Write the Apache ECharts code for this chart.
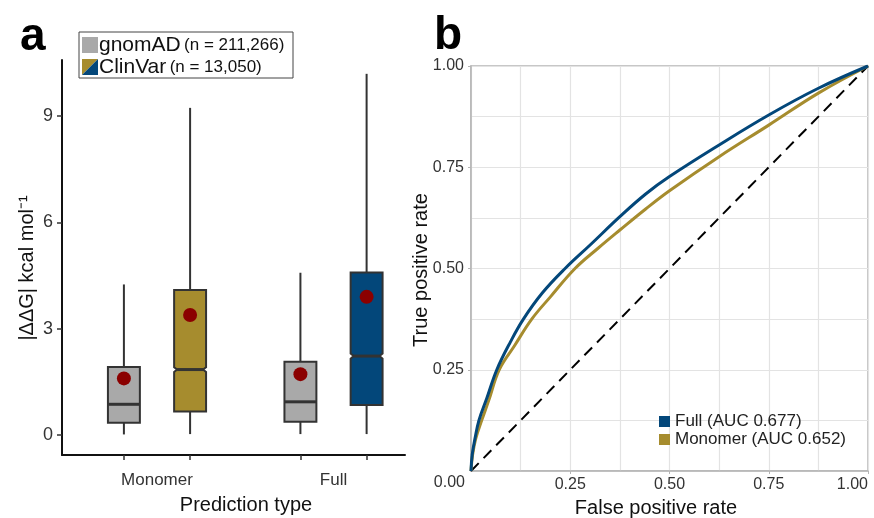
<!DOCTYPE html>
<html>
<head>
<meta charset="utf-8">
<script src="https://cdn.jsdelivr.net/npm/echarts@6/dist/echarts.min.js"></script>
<style>
  html, body { margin: 0; padding: 0; background: #fff; }
  #chart { width: 874px; height: 518px; }
</style>
</head>
<body>
<div id="chart"></div>
<script>
// panel a : |ddG| per prediction type, gnomAD vs ClinVar
var groups = ['Monomer', 'Full'];
// [lower whisker, q1, median, q3, upper whisker]
var gnomadStats = [[0.02, 0.35, 0.87, 1.92, 4.25], [0.03, 0.38, 0.94, 2.07, 4.58]];
var clinvarStats = [[0.03, 0.67, 1.85, 4.09, 9.23], [0.03, 0.85, 2.23, 4.59, 10.19]];
var gnomadNotch = [0.008, 0.008];
var clinvarNotch = [0.067, 0.073];
var gnomadMean = [1.6, 1.72];
var clinvarMean = [3.39, 3.9];
var yTicksA = [0, 3, 6, 9];

// panel b : ROC curves
var fullFpr = [0, 0.003, 0.01, 0.02, 0.04, 0.065, 0.1, 0.132, 0.18, 0.237, 0.3, 0.375, 0.44, 0.5, 0.625, 0.75, 0.875, 1];
var fullTpr = [0, 0.04, 0.08, 0.125, 0.18, 0.25, 0.32, 0.375, 0.44, 0.5, 0.558, 0.628, 0.684, 0.727, 0.805, 0.879, 0.945, 1];
var monoFpr = [0, 0.004, 0.012, 0.027, 0.045, 0.071, 0.11, 0.153, 0.2, 0.262, 0.32, 0.375, 0.44, 0.5, 0.625, 0.75, 0.875, 1];
var monoTpr = [0, 0.04, 0.08, 0.125, 0.175, 0.25, 0.31, 0.375, 0.43, 0.5, 0.55, 0.595, 0.647, 0.692, 0.776, 0.854, 0.933, 1];
var fullName = 'Full (AUC 0.677)';
var monoName = 'Monomer (AUC 0.652)';

var GREY = '#a9a9a9', GOLD = '#a68c2e', BLUE = '#03477a', EDGE = '#333333';
var DODGE = 0.1875, BOX_W = 0.181;
var FONT = 'Liberation Sans, Arial, sans-serif';

var boxData = [], meanData = [], dodgeTicks = [];
groups.forEach(function (g, i) {
  var xg = i + 1 - DODGE, xc = i + 1 + DODGE;
  boxData.push({ value: [xg].concat(gnomadStats[i], [gnomadNotch[i]]), itemStyle: { color: GREY } });
  boxData.push({ value: [xc].concat(clinvarStats[i], [clinvarNotch[i]]), itemStyle: { color: i === 0 ? GOLD : BLUE } });
  meanData.push([xg, gnomadMean[i]], [xc, clinvarMean[i]]);
  dodgeTicks.push(xg, xc);
});

function zip(a, b) { return a.map(function (v, i) { return [v, b[i]]; }); }

function renderBox(params, api) {
  var x = api.value(0);
  var lo = api.coord([x, api.value(1)]);
  var q1 = api.coord([x, api.value(2)]);
  var md = api.coord([x, api.value(3)]);
  var q3 = api.coord([x, api.value(4)]);
  var hi = api.coord([x, api.value(5)]);
  var nh = api.size([0, api.value(6)])[1];
  var w = api.size([BOX_W, 0])[0];
  var cx = md[0], l = cx - w / 2, r = cx + w / 2;
  var inset = Math.min(3, nh * 1.5);
  var line = { stroke: EDGE, lineWidth: 2 };
  return {
    type: 'group',
    children: [
      { type: 'line', shape: { x1: cx, y1: hi[1], x2: cx, y2: q3[1] }, style: line },
      { type: 'line', shape: { x1: cx, y1: q1[1], x2: cx, y2: lo[1] }, style: line },
      { type: 'polygon', shape: { points: [
          [l, q3[1]], [r, q3[1]], [r, md[1] - nh], [r - inset, md[1]], [r, md[1] + nh],
          [r, q1[1]], [l, q1[1]], [l, md[1] + nh], [l + inset, md[1]], [l, md[1] - nh]] },
        style: { fill: api.visual('color'), stroke: EDGE, lineWidth: 2 } },
      { type: 'line', shape: { x1: l + inset, y1: md[1], x2: r - inset, y2: md[1] }, style: { stroke: EDGE, lineWidth: 3 } }
    ]
  };
}

var chart = echarts.init(document.getElementById('chart'));
chart.setOption({
  backgroundColor: '#fff',
  animation: false,
  textStyle: { fontFamily: FONT },
  grid: [
    { left: 62, right: 469, top: 60, bottom: 63 },
    { left: 471, right: 6, top: 66, bottom: 47, show: true, borderColor: '#b5b5b5', borderWidth: 1.5 }
  ],
  xAxis: [
    { gridIndex: 0, type: 'value', min: 0.4618, max: 2.405,
      splitLine: { show: false },
      axisLine: { show: true, onZero: false, lineStyle: { color: '#111', width: 2 } },
      axisTick: { show: true, customValues: dodgeTicks, length: 5, lineStyle: { color: EDGE, width: 1.5 } },
      axisLabel: { customValues: [1, 2], formatter: function (v) { return groups[Math.round(v) - 1]; },
        fontSize: 17, color: '#333', margin: 17 } },
    { gridIndex: 1, type: 'value', min: 0, max: 1, interval: 0.25,
      axisLine: { show: true, onZero: false, lineStyle: { color: '#b5b5b5', width: 1.5 } },
      axisTick: { show: true, length: 3, lineStyle: { color: '#b5b5b5' } },
      axisLabel: { formatter: function (v) { return v.toFixed(2); }, fontSize: 16, color: '#333', margin: 6,
        showMinLabel: false, alignMaxLabel: 'right' },
      splitLine: { show: true, lineStyle: { color: '#e3e3e3', width: 1.2 } },
      minorTick: { show: false, splitNumber: 2 },
      minorSplitLine: { show: true, lineStyle: { color: '#e3e3e3', width: 1.2 } } }
  ],
  yAxis: [
    { gridIndex: 0, type: 'value', min: -0.56, max: 10.58,
      splitLine: { show: false },
      axisLine: { show: true, onZero: false, lineStyle: { color: '#111', width: 2 } },
      axisTick: { show: true, customValues: yTicksA, length: 5, lineStyle: { color: EDGE, width: 1.5 } },
      axisLabel: { customValues: yTicksA, fontSize: 18, color: '#333', margin: 9 } },
    { gridIndex: 1, type: 'value', min: 0, max: 1, interval: 0.25,
      axisLine: { show: true, onZero: false, lineStyle: { color: '#b5b5b5', width: 1.5 } },
      axisTick: { show: true, length: 3, lineStyle: { color: '#b5b5b5' } },
      axisLabel: { formatter: function (v) { return v.toFixed(2); }, fontSize: 16, color: '#333', margin: 7,
        showMinLabel: false },
      splitLine: { show: true, lineStyle: { color: '#e3e3e3', width: 1.2 } },
      minorTick: { show: false, splitNumber: 2 },
      minorSplitLine: { show: true, lineStyle: { color: '#e3e3e3', width: 1.2 } } }
  ],
  legend: {
    left: 659, top: 413, orient: 'vertical', padding: 0, itemGap: 1,
    itemWidth: 11, itemHeight: 11, icon: 'rect', selectedMode: false,
    textStyle: { fontSize: 17, color: '#222', fontFamily: FONT },
    data: [fullName, monoName]
  },
  series: [
    { type: 'custom', xAxisIndex: 0, yAxisIndex: 0, renderItem: renderBox, data: boxData, z: 2 },
    { type: 'scatter', xAxisIndex: 0, yAxisIndex: 0, data: meanData, symbolSize: 14,
      itemStyle: { color: '#8b0000', opacity: 1 }, z: 3 },
    { type: 'line', name: 'diagonal', xAxisIndex: 1, yAxisIndex: 1, data: [[0, 0], [1, 1]], showSymbol: false,
      lineStyle: { color: '#000', width: 2, type: [11, 7] }, itemStyle: { color: '#000' }, z: 2 },
    { type: 'line', name: monoName, xAxisIndex: 1, yAxisIndex: 1, data: zip(monoFpr, monoTpr), showSymbol: false,
      smooth: 0.4, lineStyle: { color: GOLD, width: 3 }, itemStyle: { color: GOLD }, z: 3 },
    { type: 'line', name: fullName, xAxisIndex: 1, yAxisIndex: 1, data: zip(fullFpr, fullTpr), showSymbol: false,
      smooth: 0.4, lineStyle: { color: BLUE, width: 3 }, itemStyle: { color: BLUE }, z: 4 }
  ],
  graphic: [
    { type: 'text', x: 20, y: 37, style: { text: 'a', font: 'bold 46px ' + FONT, fill: '#000', textVerticalAlign: 'middle', verticalAlign: 'middle' } },
    { type: 'text', x: 434, y: 36, style: { text: 'b', font: 'bold 46px ' + FONT, fill: '#000', textVerticalAlign: 'middle', verticalAlign: 'middle' } },
    // legend of panel a
    { type: 'rect', shape: { x: 79, y: 32, width: 214, height: 46 }, style: { fill: '#fff', stroke: '#444', lineWidth: 1 } },
    { type: 'rect', shape: { x: 82, y: 37, width: 16, height: 16 }, style: { fill: GREY } },
    { type: 'polygon', shape: { points: [[82, 59], [98, 59], [82, 75]] }, style: { fill: GOLD } },
    { type: 'polygon', shape: { points: [[98, 59], [98, 75], [82, 75]] }, style: { fill: BLUE } },
    { type: 'text', x: 99, y: 45, style: { text: '{m|gnomAD} {s|(n = 211,266)}', textVerticalAlign: 'middle', verticalAlign: 'middle',
        rich: { m: { fontSize: 21, fontFamily: FONT, fill: '#111' }, s: { fontSize: 17, fontFamily: FONT, fill: '#111' } } } },
    { type: 'text', x: 99, y: 67, style: { text: '{m|ClinVar} {s|(n = 13,050)}', textVerticalAlign: 'middle', verticalAlign: 'middle',
        rich: { m: { fontSize: 21, fontFamily: FONT, fill: '#111' }, s: { fontSize: 17, fontFamily: FONT, fill: '#111' } } } },
    // axis titles
    { type: 'text', x: 27, y: 268, rotation: Math.PI / 2,
      style: { text: '|ΔΔG| kcal mol⁻¹', font: '20px ' + FONT, fill: '#111',
        textAlign: 'center', align: 'center', textVerticalAlign: 'middle', verticalAlign: 'middle' } },
    { type: 'text', x: 246, y: 505,
      style: { text: 'Prediction type', font: '20px ' + FONT, fill: '#111',
        textAlign: 'center', align: 'center', textVerticalAlign: 'middle', verticalAlign: 'middle' } },
    { type: 'text', x: 421, y: 270, rotation: Math.PI / 2,
      style: { text: 'True positive rate', font: '20px ' + FONT, fill: '#111',
        textAlign: 'center', align: 'center', textVerticalAlign: 'middle', verticalAlign: 'middle' } },
    { type: 'text', x: 656, y: 508,
      style: { text: 'False positive rate', font: '20px ' + FONT, fill: '#111',
        textAlign: 'center', align: 'center', textVerticalAlign: 'middle', verticalAlign: 'middle' } },
    { type: 'text', x: 465, y: 483,
      style: { text: '0.00', font: '16px ' + FONT, fill: '#333',
        textAlign: 'right', align: 'right', textVerticalAlign: 'middle', verticalAlign: 'middle' } }
  ]
});
</script>
</body>
</html>
